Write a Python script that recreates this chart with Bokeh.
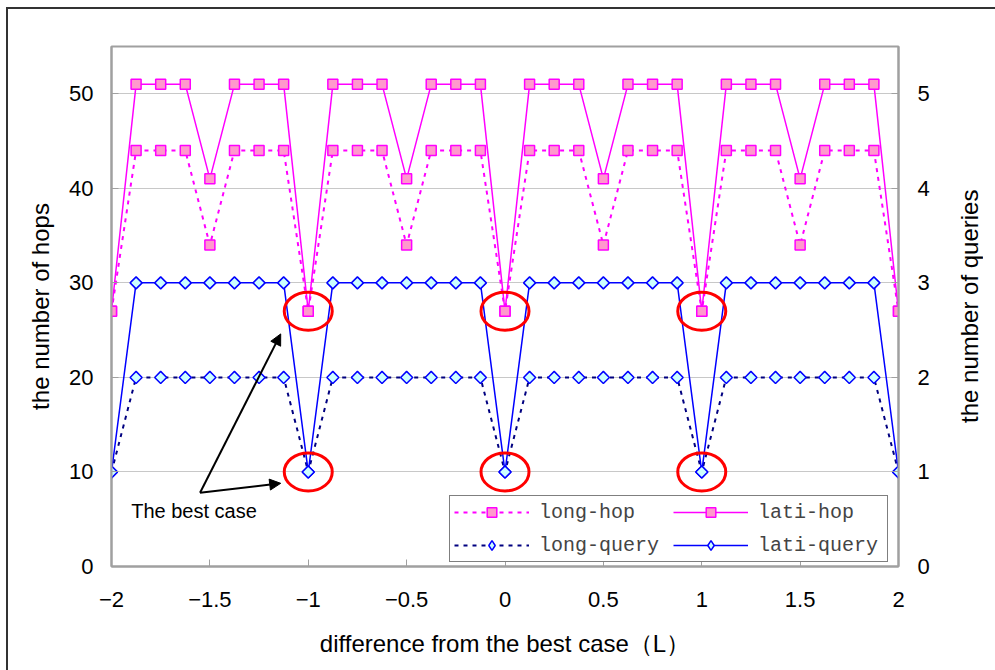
import math

from bokeh.embed import file_html
from bokeh.layouts import row
from bokeh.models import (Arrow, Div, FixedTicker, Label, Legend, LegendItem,
                          LinearAxis, NormalHead, Range1d)
from bokeh.plotting import figure
from bokeh.resources import INLINE

# offset from the best case, in units of L
x_vals = [-2.0, -1.875, -1.75, -1.625, -1.5, -1.375, -1.25, -1.125,
          -1.0, -0.875, -0.75, -0.625, -0.5, -0.375, -0.25, -0.125,
          0.0, 0.125, 0.25, 0.375, 0.5, 0.625, 0.75, 0.875,
          1.0, 1.125, 1.25, 1.375, 1.5, 1.625, 1.75, 1.875, 2.0]

# number of hops (left axis)
long_hop = [27, 44, 44, 44, 34, 44, 44, 44,
            27, 44, 44, 44, 34, 44, 44, 44,
            27, 44, 44, 44, 34, 44, 44, 44,
            27, 44, 44, 44, 34, 44, 44, 44, 27]
lati_hop = [27, 51, 51, 51, 41, 51, 51, 51,
            27, 51, 51, 51, 41, 51, 51, 51,
            27, 51, 51, 51, 41, 51, 51, 51,
            27, 51, 51, 51, 41, 51, 51, 51, 27]

# number of queries (right axis)
long_query = [1, 2, 2, 2, 2, 2, 2, 2,
              1, 2, 2, 2, 2, 2, 2, 2,
              1, 2, 2, 2, 2, 2, 2, 2,
              1, 2, 2, 2, 2, 2, 2, 2, 1]
lati_query = [1, 3, 3, 3, 3, 3, 3, 3,
              1, 3, 3, 3, 3, 3, 3, 3,
              1, 3, 3, 3, 3, 3, 3, 3,
              1, 3, 3, 3, 3, 3, 3, 3, 1]

# positions highlighted as the best case
best_x = [-1.0, 0.0, 1.0]

x_ticks = [-2, -1.5, -1, -0.5, 0, 0.5, 1, 1.5, 2]
x_tick_labels = ["\u22122", "\u22121.5", "\u22121", "\u22120.5", "0", "0.5", "1", "1.5", "2"]
hop_ticks = [0, 10, 20, 30, 40, 50]
query_ticks = [0, 1, 2, 3, 4, 5]

# callout arrow: tail near the note, heads pointing at the circled points
callout_tail = (-1.55, 7.8)
callout_heads = [(-1.14, 24.6), (-1.14, 8.8)]
note_pos = (-1.9, 5.9)

FONT = "Liberation Sans"
AXIS_GRAY = "#a0a0a0"
MAGENTA = "#FF00FF"
PINK = "#FF99CC"
BLUE = "#0000FF"
NAVY = "#000080"
CYAN = "#CCFFFF"

# page frame: 6/7 px in from the window edge, 2 px wide, open to the right/bottom
PAD_L, PAD_T, EDGE = 6, 7, 2
ORIGIN_X, ORIGIN_Y = PAD_L + EDGE, PAD_T + EDGE
TITLE_W = 45                                   # strip holding the right-hand title
H = 670 - ORIGIN_Y
W = 995 - ORIGIN_X - TITLE_W
FRAME_L, FRAME_R, FRAME_T, FRAME_B = 111, 898, 46, 566   # plotting frame on the page

p = figure(width=W, height=H,
           x_range=Range1d(-2, 2), y_range=Range1d(0, 55),
           output_backend="svg", toolbar_location=None,
           min_border_left=FRAME_L - ORIGIN_X,
           min_border_right=ORIGIN_X + W - FRAME_R,
           min_border_top=FRAME_T - ORIGIN_Y,
           min_border_bottom=ORIGIN_Y + H - FRAME_B)
p.extra_y_ranges = {"queries": Range1d(0, 5.5)}
p.background_fill_color = "white"
p.border_fill_color = "white"
p.outline_line_color = AXIS_GRAY
p.outline_line_width = 2

p.xgrid.visible = False
p.ygrid.ticker = FixedTicker(ticks=hop_ticks)
p.ygrid.grid_line_color = "#c8c8c8"
p.ygrid.grid_line_width = 1

right_axis = LinearAxis(y_range_name="queries", ticker=FixedTicker(ticks=query_ticks))
p.add_layout(right_axis, "right")

p.xaxis.ticker = FixedTicker(ticks=x_ticks)
p.xaxis.major_label_overrides = {t: s for t, s in zip(x_ticks, x_tick_labels)}
p.xaxis.axis_label = "difference from the best case\uff08L\uff09"
p.yaxis[0].ticker = FixedTicker(ticks=hop_ticks)
p.yaxis[0].axis_label = "the number of hops"

for ax in [p.xaxis[0], p.yaxis[0], right_axis]:
    ax.axis_line_color = AXIS_GRAY
    ax.axis_line_width = 2
    ax.major_tick_line_color = AXIS_GRAY
    ax.major_tick_line_width = 1
    ax.major_tick_in = 7
    ax.major_tick_out = 0
    ax.minor_tick_line_color = None
    ax.major_label_text_font = FONT
    ax.major_label_text_font_size = "22px"
    ax.major_label_text_color = "black"
    ax.axis_label_text_font = FONT
    ax.axis_label_text_font_size = "24px"
    ax.axis_label_text_font_style = "normal"
    ax.axis_label_text_color = "black"

p.xaxis.major_label_standoff = 25
p.xaxis.axis_label_standoff = 20
p.yaxis[0].major_label_standoff = 18
p.yaxis[0].axis_label_standoff = 12
right_axis.major_label_standoff = 19

square_style = dict(marker="square", size=10, fill_color=PINK,
                    line_color=MAGENTA, line_width=1.5)
diamond_style = dict(marker="square", angle=math.pi / 4, size=8.5,
                     fill_color=CYAN, line_color=BLUE, line_width=1.5)

lh_line = p.line(x_vals, long_hop, line_color=MAGENTA, line_width=2, line_dash="4 5")
lh_pts = p.scatter(x_vals, long_hop, **square_style)
ah_line = p.line(x_vals, lati_hop, line_color=MAGENTA, line_width=1.5)
ah_pts = p.scatter(x_vals, lati_hop, **square_style)
lq_line = p.line(x_vals, long_query, line_color=NAVY, line_width=2, line_dash="4 5",
                 y_range_name="queries")
lq_pts = p.scatter(x_vals, long_query, y_range_name="queries", **diamond_style)
aq_line = p.line(x_vals, lati_query, line_color=BLUE, line_width=1.5,
                 y_range_name="queries")
aq_pts = p.scatter(x_vals, lati_query, y_range_name="queries", **diamond_style)

# legend swatch for the diamond marker (a single hidden NaN point)
key_diamond = p.scatter(x=[float("nan")], y=[float("nan")], marker="diamond",
                        fill_color=CYAN, line_color=BLUE, line_width=1.5)

# red rings around the best-case points
best_idx = [x_vals.index(b) for b in best_x]
ring = dict(width=48, height=38, width_units="screen", height_units="screen",
            fill_color=None, line_color="#FF0000", line_width=3)
p.ellipse(x=best_x, y=[lati_hop[i] for i in best_idx], **ring)
p.ellipse(x=best_x, y=[lati_query[i] for i in best_idx], y_range_name="queries", **ring)

for hx, hy in callout_heads:
    p.add_layout(Arrow(end=NormalHead(size=11, fill_color="black", line_color="black"),
                       x_start=callout_tail[0], y_start=callout_tail[1],
                       x_end=hx, y_end=hy, line_color="black", line_width=2))

p.add_layout(Label(x=note_pos[0], y=note_pos[1], text="The best case",
                   text_font=FONT, text_font_size="20px", text_baseline="middle",
                   text_color="black"))

legend = Legend(items=[
    LegendItem(label="long-hop", renderers=[lh_line, lh_pts]),
    LegendItem(label="long-query", renderers=[lq_line, key_diamond]),
    LegendItem(label="lati-hop", renderers=[ah_line, ah_pts]),
    LegendItem(label="lati-query", renderers=[aq_line, key_diamond]),
], location=(338, 4), ncols=2)
legend.label_text_font = "Liberation Mono"
legend.label_text_font_size = "20px"
legend.glyph_width = 75
legend.glyph_height = 24
legend.label_height = 24
legend.label_standoff = 10
legend.label_width = 125
legend.spacing = 9
legend.padding = 4
legend.margin = 0
legend.border_line_color = "black"
legend.border_line_width = 1
legend.background_fill_color = "white"
legend.background_fill_alpha = 1
p.add_layout(legend)

# right-hand axis title, reading bottom to top, centred on the plotting frame
title_h = 2 * ((FRAME_T + FRAME_B) // 2 - ORIGIN_Y)
right_title = Div(
    text=("<div style=\"writing-mode: vertical-rl; transform: rotate(180deg); "
          f"width: {TITLE_W - 5}px; height: {title_h}px; display: flex; "
          "align-items: center; justify-content: center; white-space: nowrap; "
          f"font-family: '{FONT}'; font-size: 24px; color: black;\">"
          "the number of queries</div>"),
    width=TITLE_W, height=H, margin=0)

page = row(p, right_title, spacing=0)
page.styles = {
    "margin-left": f"{PAD_L}px",
    "margin-top": f"{PAD_T}px",
    "border-left": f"{EDGE}px solid #333333",
    "border-top": f"{EDGE}px solid #333333",
    "background-color": "white",
}

open("out.html", "w").write(file_html(page, INLINE))
